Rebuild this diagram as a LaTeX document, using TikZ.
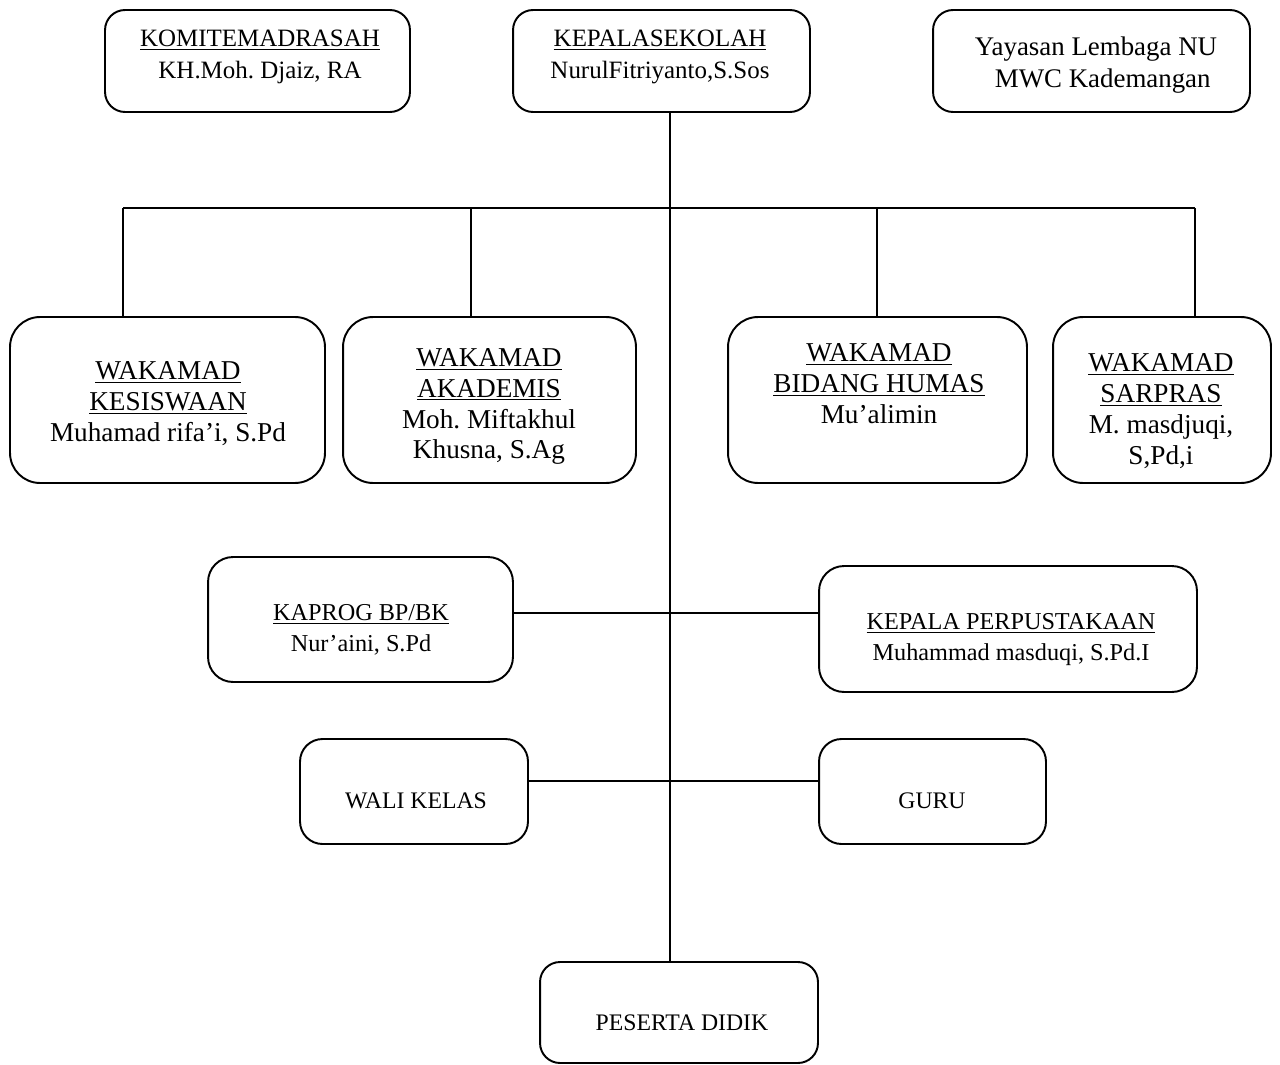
\documentclass[tikz,border=0pt]{standalone}
\usepackage{fontspec}
\setmainfont{Liberation Serif}
\usetikzlibrary{calc}
\frenchspacing

\tikzset{
	kotak/.style={draw, line width=1.1pt, rounded corners=0.4cm, inner sep=0pt},
	tulisan/.style={align=center, inner sep=0pt},
	garis/.style={line width=1.1pt}
}

\begin{document}
\begin{tikzpicture}[x=0.02cm, y=-0.02cm]
	\useasboundingbox (0,0) rectangle (1280,1064);

	% baris atas
	\node[kotak, minimum width=6.1cm, minimum height=2.04cm] (komite) at (257.5,61) {};
	\node[kotak, minimum width=5.94cm, minimum height=2.04cm] (kepala) at (661.5,61) {};
	\node[kotak, minimum width=6.34cm, minimum height=2.04cm] (yayasan) at (1091.5,61) {};
	\node[tulisan, font=\fontsize{14.2}{18}\selectfont] (komite-t) at (260,57)
	{\underline{KOMITEMADRASAH}\\KH.Moh. Djaiz, RA};
	\node[tulisan, font=\fontsize{14.2}{18}\selectfont] (kepala-t) at (660,57)
	{\underline{KEPALASEKOLAH}\\NurulFitriyanto,S.Sos};
	\node[tulisan, font=\fontsize{15.3}{18}\selectfont] (yayasan-t) at (1096,65)
	{Yayasan Lembaga NU\\\ \ MWC Kademangan};

	% para wakamad
	\node[kotak, rounded corners=0.6cm, minimum width=6.3cm, minimum height=3.32cm] (kesiswaan) at (167.5,400) {};
	\node[kotak, rounded corners=0.6cm, minimum width=5.86cm, minimum height=3.32cm] (akademis) at (489.5,400) {};
	\node[kotak, rounded corners=0.6cm, minimum width=5.98cm, minimum height=3.32cm] (humas) at (877.5,400) {};
	\node[kotak, rounded corners=0.6cm, minimum width=4.36cm, minimum height=3.32cm] (sarpras) at (1162,400) {};
	\node[tulisan, font=\fontsize{15.5}{17.6}\selectfont] (kesiswaan-t) at (168,404)
	{\underline{WAKAMAD}\\\underline{KESISWAAN}\\Muhamad rifa’i, S.Pd};
	\node[tulisan, font=\fontsize{15.5}{17.6}\selectfont] (akademis-t) at (489,406.5)
	{\underline{WAKAMAD}\\\underline{AKADEMIS}\\Moh. Miftakhul\\Khusna, S.Ag};
	\node[tulisan, font=\fontsize{15.5}{17.6}\selectfont] (humas-t) at (879,384)
	{\underline{WAKAMAD}\\\underline{BIDANG HUMAS}\\Mu’alimin};
	\node[tulisan, font=\fontsize{15.5}{17.6}\selectfont] (sarpras-t) at (1161,411)
	{\underline{WAKAMAD}\\\underline{SARPRAS}\\M. masdjuqi,\\S,Pd,i};

	% kaprog dan perpustakaan
	\node[kotak, rounded corners=0.5cm, minimum width=6.1cm, minimum height=2.5cm] (kaprog) at (360.5,619.5) {};
	\node[kotak, rounded corners=0.5cm, minimum width=7.56cm, minimum height=2.52cm] (perpus) at (1008,629) {};
	\node[tulisan, font=\fontsize{13.8}{17.6}\selectfont] (kaprog-t) at (361,630)
	{\underline{KAPROG BP/BK}\\Nur’aini, S.Pd};
	\node[tulisan, font=\fontsize{13.8}{17.6}\selectfont] (perpus-t) at (1011,640)
	{\underline{KEPALA PERPUSTAKAAN}\\Muhammad masduqi, S.Pd.I};

	% wali kelas, guru, peserta didik
	\node[kotak, rounded corners=0.45cm, minimum width=4.56cm, minimum height=2.1cm] (wali) at (414,791.5) {};
	\node[kotak, rounded corners=0.45cm, minimum width=4.54cm, minimum height=2.1cm] (guru) at (932.5,791.5) {};
	\node[kotak, minimum width=5.56cm, minimum height=2.02cm] (peserta) at (679,1012.5) {};
	\node[tulisan, font=\fontsize{13.5}{17.6}\selectfont] (wali-t) at (416,801) {WALI KELAS};
	\node[tulisan, font=\fontsize{13.5}{17.6}\selectfont] (guru-t) at (932,801) {GURU};
	\node[tulisan, font=\fontsize{13.5}{17.6}\selectfont] (peserta-t) at (682,1023) {PESERTA DIDIK};

	% garis
	\coordinate (batang) at ([xshift=0.17cm]kepala.south);
	\draw[garis] (batang) -- (batang |- peserta.north);
	\foreach \i/\x/\b in {1/123/kesiswaan, 2/471/akademis, 3/877/humas, 4/1195/sarpras}
	{
		\coordinate (d\i) at (\x,208);
		\draw[garis] (d\i) -- (d\i |- \b.north);
	}
	\draw[garis] (d1) -- (d4);
	\coordinate (k1) at ([yshift=0.13cm]kaprog.east);
	\draw[garis] (k1) -- (k1 -| perpus.west);
	\coordinate (w1) at ([yshift=0.21cm]wali.east);
	\draw[garis] (w1) -- (w1 -| guru.west);
\end{tikzpicture}
\end{document}
